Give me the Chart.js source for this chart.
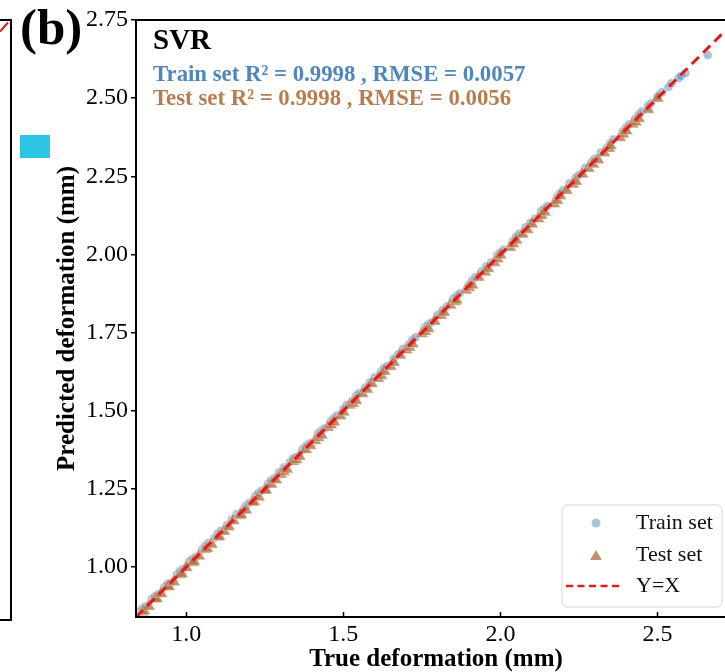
<!DOCTYPE html>
<html>
<head>
<meta charset="utf-8">
<script src="https://cdn.jsdelivr.net/npm/chart.js@4.4.0/dist/chart.umd.min.js"></script>
<style>
  html, body { margin: 0; padding: 0; width: 725px; height: 672px; overflow: hidden; background: #fff; }
  #wrap { position: absolute; left: 0; top: 0; width: 750px; height: 672px; }
  .panelLabel { position: absolute; left: 20px; top: -2px; font: bold 51px "Liberation Serif", serif; color: #000; }
  .prevBox { position: absolute; left: -4px; top: 19px; width: 14px; height: 598px; border: 2px solid #000; border-left: none; }
  .prevDash { position: absolute; left: -2px; top: 26px; width: 12px; height: 0; border-top: 2.5px dashed #e41a1c; transform: rotate(-48deg); }
  .prevSquare { position: absolute; left: 20px; top: 135px; width: 30px; height: 23px; background: #2ec4e6; }
</style>
</head>
<body>
<div class="prevBox"></div>
<div class="prevDash"></div>
<div class="prevSquare"></div>
<div id="wrap"><canvas id="myChart" width="750" height="672"></canvas></div>
<div class="panelLabel">(b)</div>
<script>
// true vs predicted deformation (mm)
const trainTrue = [0.85,0.86,0.87,0.89,0.90,0.91,0.93,0.94,0.95,0.97,0.98,0.99,1.01,1.02,1.03,1.05,1.06,1.07,1.09,1.10,1.11,1.13,1.145,1.16,1.18,1.19,1.20,1.22,1.23,1.24,1.26,1.27,1.28,1.295,1.31,1.33,1.34,1.35,1.37,1.38,1.39,1.42,1.43,1.44,1.46,1.47,1.48,1.50,1.51,1.53,1.54,1.55,1.57,1.585,1.60,1.62,1.63,1.64,1.66,1.675,1.69,1.71,1.72,1.73,1.76,1.77,1.78,1.80,1.815,1.83,1.85,1.86,1.87,1.90,1.91,1.92,1.94,1.955,1.97,1.99,2.00,2.01,2.04,2.05,2.06,2.08,2.095,2.11,2.13,2.14,2.15,2.18,2.19,2.20,2.22,2.24,2.25,2.27,2.29,2.30,2.32,2.34,2.35,2.36,2.39,2.40,2.41,2.43,2.44,2.45,2.47,2.48,2.50,2.515,2.535,2.545,2.567,2.575,2.589,2.66];
const trainPred = [0.856,0.867,0.874,0.897,0.906,0.913,0.935,0.946,0.948,0.976,0.987,0.994,1.018,1.026,1.032,1.055,1.067,1.077,1.093,1.107,1.116,1.134,1.152,1.169,1.182,1.196,1.205,1.227,1.237,1.244,1.266,1.277,1.283,1.302,1.318,1.335,1.347,1.352,1.376,1.386,1.394,1.427,1.436,1.443,1.466,1.477,1.485,1.506,1.518,1.532,1.547,1.556,1.574,1.591,1.607,1.625,1.637,1.643,1.666,1.681,1.698,1.714,1.727,1.735,1.767,1.776,1.782,1.806,1.821,1.834,1.858,1.867,1.875,1.903,1.916,1.927,1.946,1.962,1.974,1.998,2.006,2.015,2.043,2.057,2.066,2.087,2.101,2.114,2.139,2.147,2.155,2.183,2.196,2.206,2.228,2.246,2.254,2.277,2.295,2.306,2.326,2.343,2.357,2.368,2.394,2.406,2.416,2.435,2.447,2.457,2.476,2.484,2.505,2.519,2.536,2.548,2.564,2.571,2.580,2.638];

const testTrue = [0.86,0.865,0.88,0.90,0.905,0.92,0.94,0.944,0.96,0.98,0.985,1.00,1.02,1.024,1.04,1.06,1.066,1.08,1.10,1.104,1.12,1.135,1.15,1.17,1.174,1.19,1.21,1.215,1.23,1.25,1.253,1.27,1.285,1.30,1.31,1.32,1.34,1.35,1.36,1.38,1.395,1.41,1.42,1.43,1.45,1.46,1.47,1.49,1.50,1.52,1.53,1.54,1.56,1.575,1.59,1.61,1.62,1.63,1.65,1.66,1.68,1.70,1.71,1.72,1.75,1.76,1.77,1.79,1.81,1.82,1.84,1.855,1.86,1.89,1.90,1.91,1.93,1.95,1.96,1.98,1.99,2.00,2.03,2.04,2.05,2.07,2.085,2.10,2.12,2.13,2.14,2.17,2.18,2.19,2.21,2.23,2.24,2.26,2.28,2.295,2.31,2.33,2.345,2.35,2.38,2.39,2.40,2.42,2.43,2.44,2.47,2.50];
const testPred = [0.856,0.860,0.874,0.898,0.899,0.915,0.937,0.938,0.953,0.976,0.979,0.998,1.014,1.018,1.035,1.057,1.060,1.073,1.096,1.098,1.114,1.129,1.148,1.165,1.168,1.182,1.207,1.209,1.224,1.246,1.246,1.265,1.279,1.297,1.305,1.313,1.338,1.343,1.354,1.376,1.389,1.405,1.414,1.422,1.447,1.455,1.464,1.484,1.496,1.518,1.524,1.533,1.555,1.569,1.587,1.604,1.613,1.626,1.642,1.655,1.678,1.695,1.703,1.714,1.747,1.754,1.763,1.786,1.805,1.815,1.838,1.849,1.854,1.886,1.895,1.902,1.927,1.944,1.955,1.974,1.986,1.998,2.023,2.034,2.046,2.065,2.080,2.097,2.114,2.125,2.136,2.162,2.173,2.188,2.205,2.225,2.234,2.257,2.276,2.289,2.303,2.325,2.340,2.348,2.374,2.385,2.396,2.417,2.424,2.435,2.464,2.500];

const lineEnds = [0.84, 2.75];
const axisMin = 0.84;
const axisMax = 2.75;
const xTicks = [1.0, 1.5, 2.0, 2.5];
const yTicks = [1.00, 1.25, 1.50, 1.75, 2.00, 2.25, 2.50, 2.75];

const modelName = "SVR";
const trainNote = "Train set R\u00b2 = 0.9998 , RMSE = 0.0057";
const testNote = "Test set R\u00b2 = 0.9998 , RMSE = 0.0056";

const serif = '"Liberation Serif", "Times New Roman", serif';
const trainColor = "rgba(84, 136, 192, 0.5)";
const testColor = "rgba(178, 118, 72, 0.8)";
const lineColor = "#e8191b";

const pairs = (xs, ys) => xs.map((x, i) => ({ x: x, y: ys[i] }));

// frame, inward x ticks, notes and legend
const extras = {
  id: "extras",
  afterDraw(chart) {
    const ctx = chart.ctx;
    const a = chart.chartArea;
    const xs = chart.scales.x;
    ctx.save();
    ctx.strokeStyle = "#000";
    ctx.lineWidth = 2;
    ctx.strokeRect(a.left, a.top, a.right - a.left, a.bottom - a.top);
    ctx.lineWidth = 1.5;
    xTicks.forEach((v) => {
      const px = Math.round(xs.getPixelForValue(v)) + 0.5;
      ctx.beginPath();
      ctx.moveTo(px, a.bottom);
      ctx.lineTo(px, a.bottom - 5);
      ctx.stroke();
    });

    ctx.textBaseline = "middle";
    ctx.textAlign = "left";
    ctx.fillStyle = "#000";
    ctx.font = "bold 29px " + serif;
    ctx.fillText(modelName, 153, 42);
    ctx.font = "bold 22.8px " + serif;
    ctx.fillStyle = "#4f86bd";
    ctx.fillText(trainNote, 153, 75);
    ctx.fillStyle = "#b87d4e";
    ctx.fillText(testNote, 153, 99);

    // legend box
    const bx = 562, by = 505, bw = 160, bh = 102, r = 5;
    ctx.beginPath();
    ctx.moveTo(bx + r, by);
    ctx.arcTo(bx + bw, by, bx + bw, by + bh, r);
    ctx.arcTo(bx + bw, by + bh, bx, by + bh, r);
    ctx.arcTo(bx, by + bh, bx, by, r);
    ctx.arcTo(bx, by, bx + bw, by, r);
    ctx.closePath();
    ctx.fillStyle = "rgba(255,255,255,0.8)";
    ctx.fill();
    ctx.strokeStyle = "#d6d6d6";
    ctx.lineWidth = 1;
    ctx.stroke();

    ctx.fillStyle = trainColor;
    ctx.beginPath();
    ctx.arc(596, 523, 4.5, 0, Math.PI * 2);
    ctx.fill();
    ctx.fillStyle = testColor;
    ctx.beginPath();
    ctx.moveTo(596, 550);
    ctx.lineTo(602, 560);
    ctx.lineTo(590, 560);
    ctx.closePath();
    ctx.fill();
    ctx.strokeStyle = lineColor;
    ctx.lineWidth = 2.5;
    ctx.setLineDash([7, 4.5]);
    ctx.beginPath();
    ctx.moveTo(566, 586);
    ctx.lineTo(620, 586);
    ctx.stroke();
    ctx.setLineDash([]);

    ctx.fillStyle = "#111";
    ctx.font = "22px " + serif;
    ctx.fillText("Train set", 636, 523);
    ctx.fillText("Test set", 636, 555);
    ctx.fillText("Y=X", 636, 586);
    ctx.restore();
  },
};

const ctx = document.getElementById("myChart").getContext("2d");
const myChart = new Chart(ctx, {
  type: "scatter",
  data: {
    datasets: [
      {
        label: "Y=X",
        data: pairs(lineEnds, lineEnds),
        showLine: true,
        borderColor: lineColor,
        borderWidth: 3,
        borderDash: [10, 6],
        pointRadius: 0,
        order: 0,
      },
      {
        label: "Test set",
        data: pairs(testTrue, testPred),
        pointStyle: "triangle",
        pointRadius: 7.5,
        backgroundColor: testColor,
        borderColor: "rgba(255,255,255,0.6)",
        borderWidth: 0.6,
        order: 1,
      },
      {
        label: "Train set",
        data: pairs(trainTrue, trainPred),
        pointStyle: "circle",
        pointRadius: 4.5,
        backgroundColor: trainColor,
        borderColor: "rgba(255,255,255,0.6)",
        borderWidth: 0.6,
        order: 2,
      },
    ],
  },
  options: {
    responsive: false,
    animation: false,
    devicePixelRatio: 1,
    layout: { padding: { left: 53, top: 20, right: 14, bottom: 0 } },
    plugins: { legend: { display: false }, tooltip: { enabled: false } },
    scales: {
      x: {
        type: "linear",
        min: axisMin,
        max: axisMax,
        afterBuildTicks: (s) => { s.ticks = xTicks.map((v) => ({ value: v })); },
        afterFit: (s) => { s.height = 55; },
        ticks: {
          callback: (v) => Number(v).toFixed(1),
          color: "#000",
          font: { family: serif, size: 24 },
          padding: 3,
          maxRotation: 0,
        },
        grid: { drawOnChartArea: false, drawTicks: false },
        border: { color: "#000", width: 2 },
        title: {
          display: true,
          text: "True deformation (mm)",
          color: "#000",
          font: { family: serif, size: 25, weight: "bold" },
          padding: { top: 0, bottom: -3 },
        },
      },
      y: {
        type: "linear",
        min: axisMin,
        max: axisMax,
        afterBuildTicks: (s) => { s.ticks = yTicks.map((v) => ({ value: v })); },
        afterFit: (s) => { s.width = 83; },
        ticks: {
          callback: (v) => Number(v).toFixed(2),
          color: "#000",
          font: { family: serif, size: 24 },
          padding: 3,
        },
        grid: { drawOnChartArea: false, tickLength: 5, color: "#000", lineWidth: 1.5 },
        border: { color: "#000", width: 2 },
        title: {
          display: true,
          text: "Predicted deformation (mm)",
          color: "#000",
          font: { family: serif, size: 25, weight: "bold" },
          padding: 0,
        },
      },
    },
  },
  plugins: [extras],
});
</script>
</body>
</html>
